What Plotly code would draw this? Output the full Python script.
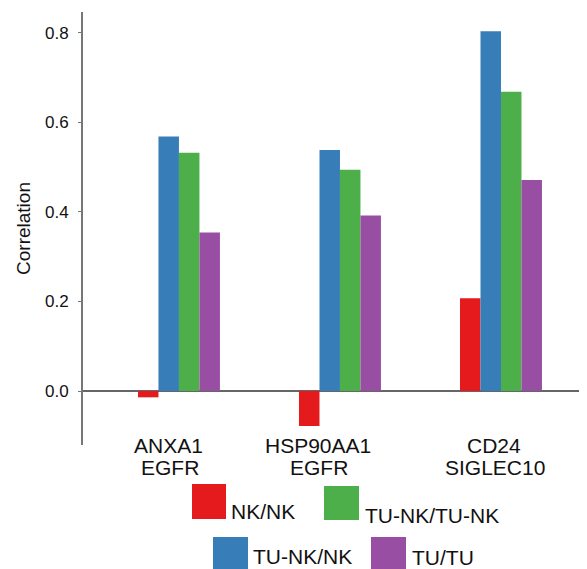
import plotly.graph_objects as go

# ---- data ----
gene_a = ["ANXA1", "HSP90AA1", "CD24"]
gene_b = ["EGFR", "EGFR", "SIGLEC10"]
categories = [f"{a}<br>{b}" for a, b in zip(gene_a, gene_b)]

series_names = ["NK/NK", "TU-NK/NK", "TU-NK/TU-NK", "TU/TU"]
series_colors = ["#E41A1C", "#377EB8", "#4DAF4A", "#984EA3"]
nk_nk = [-0.014, -0.078, 0.207]
tunk_nk = [0.568, 0.538, 0.803]
tunk_tunk = [0.532, 0.494, 0.668]
tu_tu = [0.354, 0.392, 0.471]
series_values = [nk_nk, tunk_nk, tunk_tunk, tu_tu]

y_ticks = [0.0, 0.2, 0.4, 0.6, 0.8]
y_ticktext = ["0.0", "0.2", "0.4", "0.6", "0.8"]

# page body has an 8px margin, so the figure starts at (8, 8)
OFF = 8
W, H = 587 - OFF, 569 - OFF
L, R, T, B = 83 - OFF, 1, 12 - OFF, 124
PW, PH = W - L - R, H - T - B
FONT = "Liberation Sans, Arial, sans-serif"


def px(xp):
    return (xp - OFF - L) / PW


def py(yp):
    return (H - B - (yp - OFF)) / PH


fig = go.Figure()
for name, color, vals in zip(series_names, series_colors, series_values):
    fig.add_trace(go.Bar(x=categories, y=vals, name=name,
                         marker=dict(color=color, line=dict(width=0)),
                         showlegend=False))

annotations = []
# category labels (two lines each)
shift_a = [-10, -22, -7]
shift_b = [-9, -21, -6]
for cat, a, b, sa, sb in zip(categories, gene_a, gene_b, shift_a, shift_b):
    annotations.append(dict(x=cat, xref="x", y=py(445), yref="paper", text=a,
                            showarrow=False, xanchor="center", yanchor="middle",
                            xshift=sa, font=dict(size=21, color="#111", family=FONT)))
    annotations.append(dict(x=cat, xref="x", y=py(467), yref="paper", text=b,
                            showarrow=False, xanchor="center", yanchor="middle",
                            xshift=sb, font=dict(size=21, color="#111", family=FONT)))

# custom legend
legend_boxes = {  # x0, y0, x1, y1 in pixels
    "NK/NK": (192, 484, 226, 519),
    "TU-NK/TU-NK": (324, 486, 359, 520),
    "TU-NK/NK": (213, 537, 248, 569),
    "TU/TU": (371, 537, 406, 569),
}
legend_text = {  # left x, centre y in pixels
    "NK/NK": (229, 511),
    "TU-NK/TU-NK": (363, 515),
    "TU-NK/NK": (251, 556),
    "TU/TU": (410, 557),
}
shapes = []
for name, color in zip(series_names, series_colors):
    x0, y0, x1, y1 = legend_boxes[name]
    shapes.append(dict(type="rect", xref="paper", yref="paper",
                       x0=px(x0), x1=px(x1), y0=py(y1), y1=py(y0),
                       fillcolor=color, line=dict(width=0)))
    tx, ty = legend_text[name]
    annotations.append(dict(x=px(tx), xref="paper", y=py(ty), yref="paper",
                            text=name, showarrow=False, xanchor="left",
                            yanchor="middle",
                            font=dict(size=21, color="#111", family=FONT)))

fig.update_layout(
    width=W, height=H,
    margin=dict(l=L, r=R, t=T, b=B),
    paper_bgcolor="white", plot_bgcolor="white",
    barmode="group", bargap=0.491, bargroupgap=0,
    font=dict(family=FONT, color="#111"),
    xaxis=dict(range=[-0.596, 2.528], showticklabels=False, showline=False,
               showgrid=False, zeroline=False, ticks=""),
    yaxis=dict(range=[-0.1204, 0.846], tickvals=y_ticks, ticktext=y_ticktext,
               showline=True, linecolor="#777", linewidth=2,
               ticks="outside", ticklen=3, tickcolor="#777", tickwidth=1,
               ticklabelstandoff=6,
               tickfont=dict(size=17, color="#111", family=FONT),
               showgrid=False, zeroline=True, zerolinecolor="#666",
               zerolinewidth=1.5,
               title=dict(text="Correlation", standoff=9,
                          font=dict(size=19, color="#111", family=FONT))),
    shapes=shapes,
    annotations=annotations,
    showlegend=False,
)

fig.write_html("out.html")
